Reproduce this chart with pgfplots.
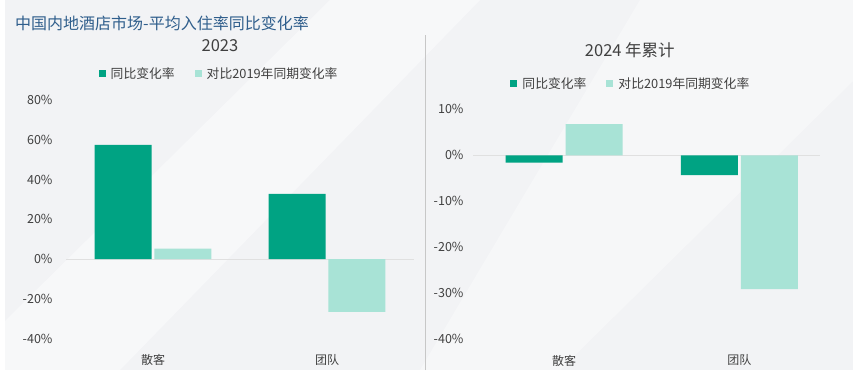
\documentclass[border=0pt]{standalone}
\usepackage{fontspec}
\setmainfont{Noto Sans CJK SC}
\usepackage{pgfplots}
\pgfplotsset{compat=1.18}
\definecolor{dk}{HTML}{00A383}
\definecolor{lt}{HTML}{A8E3D6}
\definecolor{ttl}{HTML}{2F5E8C}
\definecolor{txt}{HTML}{404040}
\definecolor{bgc}{HTML}{F2F3F5}
\begin{document}
\begin{tikzpicture}
\useasboundingbox (0pt,0pt) rectangle (853pt,381pt);
\fill[white] (0pt,0pt) rectangle (853pt,381pt);
\fill[bgc] (5pt,11pt) rectangle (853pt,381pt);
\fill[white,opacity=0.45] (330pt,381pt) -- (480pt,381pt) -- (120pt,11pt) -- (5pt,11pt) -- (5pt,60pt) -- cycle;
\fill[white,opacity=0.35] (640pt,381pt) -- (853pt,381pt) -- (853pt,300pt) -- (560pt,11pt) -- (420pt,11pt) -- cycle;
\draw[black!22, line width=0.8pt] (425pt,11pt) -- (425pt,346pt);
\node[anchor=west, text=ttl, font=\fontsize{16}{18}\selectfont, inner sep=0pt] at (15pt,358pt) {中国内地酒店市场-平均入住率同比变化率};
\pgfplotsset{
  mystyle/.style={
    scale only axis, anchor=south west,
    axis line style={draw=none}, tick style={draw=none}, major tick length=0pt,
    /pgf/number format/assume math mode=true,
    xtick={0,1}, xticklabels={散客,团队},
    xticklabel style={font=\fontsize{12}{14}\selectfont, text=txt, yshift=-12pt},
    yticklabel={\pgfmathprintnumber{\tick}\%},
    yticklabel style={font=\fontsize{12.5}{14}\selectfont, text=txt},
    extra y ticks={0}, extra y tick labels={},
    extra y tick style={grid=major, major grid style={draw=black!12, line width=0.8pt}},
    legend columns=2,
    legend image code/.code={\fill[##1,draw=none] (0pt,-3.5pt) rectangle (7pt,3.5pt);},
    legend style={draw=none, fill=none, font=\fontsize{12.8}{14}\selectfont, text=txt,
      anchor=center, /tikz/every even column/.append style={column sep=18pt},
      /tikz/every odd column/.append style={column sep=3pt}},
    title style={font=\fontsize{16.5}{18}\selectfont, text=txt, anchor=center},
  }
}
\begin{axis}[mystyle, at={(66pt,42.5pt)}, width=348pt, height=238.5pt,
  xmin=-0.5, xmax=1.5, ymin=-40, ymax=80, ytick={-40,-20,0,20,40,60,80},
  yticklabel style={xshift=-10pt},
  legend style={at={(0.44,1.11)}},
  title={2023}, title style={at={(0.4425,1.201)}}]
\addplot[ybar, fill=dk, draw=none, bar width=0.328, bar shift=-0.172] coordinates {(0,57.4) (1,32.8)};
\addplot[ybar, fill=lt, draw=none, bar width=0.328, bar shift=0.172] coordinates {(0,5.2) (1,-26.6)};
\legend{同比变化率, 对比2019年同期变化率}
\end{axis}
\begin{axis}[mystyle, at={(473pt,41.7pt)}, width=347pt, height=230pt,
  xmin=-0.52, xmax=1.46, ymin=-40, ymax=10, ytick={-40,-30,-20,-10,0,10},
  yticklabel style={xshift=-6pt},
  legend style={at={(0.455,1.112)}},
  title={2024 年累计}, title style={at={(0.452,1.229)}}]
\addplot[ybar, fill=dk, draw=none, bar width=0.326, bar shift=-0.171] coordinates {(0,-1.6) (1,-4.3)};
\addplot[ybar, fill=lt, draw=none, bar width=0.326, bar shift=0.171] coordinates {(0,6.8) (1,-29.1)};
\legend{同比变化率, 对比2019年同期变化率}
\end{axis}
\end{tikzpicture}
\end{document}
